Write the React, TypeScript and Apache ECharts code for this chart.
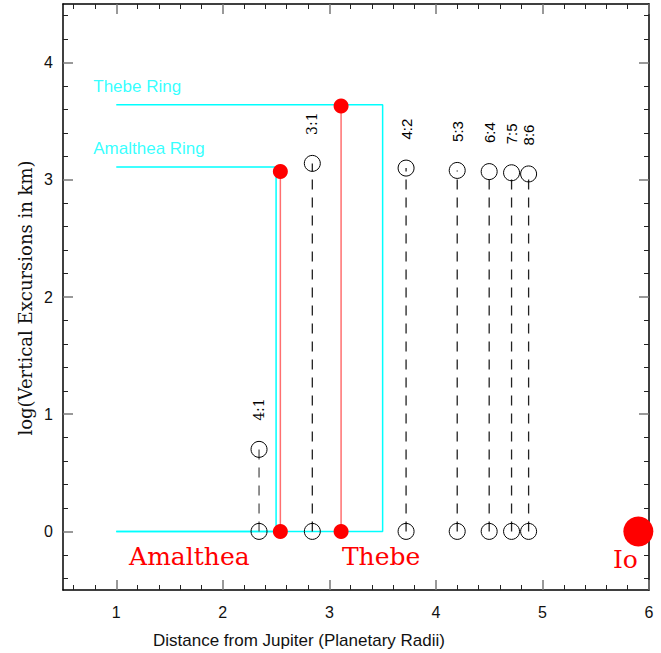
import React, { useEffect, useRef } from "react";
import * as echarts from "echarts";

// ---- data ----
const resonanceLabels = ["4:1", "3:1", "4:2", "5:3", "6:4", "7:5", "8:6"];
const resonanceDistance = [2.34, 2.84, 3.72, 4.2, 4.5, 4.71, 4.87];
const resonanceExcursion = [0.7, 3.14, 3.1, 3.08, 3.07, 3.06, 3.05];

const moonNames = ["Amalthea", "Thebe"];
const moonDistance = [2.54, 3.11];
const moonExcursion = [3.07, 3.63];

const ioName = "Io";
const ioDistance = 5.9;

const ringNames = ["Amalthea Ring", "Thebe Ring"];
const ringInner = [1, 1];
const ringOuter = [2.5, 3.5];
const ringExcursion = [3.11, 3.64];

const xMajorTicks = [1, 2, 3, 4, 5, 6];
const yMajorTicks = [0, 1, 2, 3, 4];
const X_MIN = 0.5, X_MAX = 6;
const Y_MIN = -0.5, Y_MAX = 4.5;

function minorTicks(min: number, max: number, step: number, majors: number[]) {
  const out: number[] = [];
  const start = Math.ceil(min / step - 1e-9);
  for (let k = start; k * step <= max + 1e-9; k++) {
    const v = Math.round(k * step * 1000) / 1000;
    if (v <= min || v >= max) continue;
    if (majors.some((m) => Math.abs(m - v) < 1e-6)) continue;
    out.push(v);
  }
  return out;
}
const xMinorTicks = minorTicks(X_MIN, X_MAX, 0.2, xMajorTicks);
const yMinorTicks = minorTicks(Y_MIN, Y_MAX, 0.2, yMajorTicks);

const SANS = "Liberation Sans";
const SERIF = "DejaVu Serif";
const CYAN = "#00ffff";
const RED = "#ff0000";
const RED_LINE = "#ff6f6f";

export default function App() {
  const ref = useRef<HTMLDivElement>(null);

  useEffect(() => {
    if (!ref.current) return;
    const chart = echarts.init(ref.current, null, { renderer: "svg" });

    const baseAxis = (pos: string, min: number, max: number) => ({
      type: "value",
      position: pos,
      min,
      max,
      splitLine: { show: false },
      axisLine: { show: false, onZero: false },
      axisLabel: { show: false },
    });
    const majorAxis = (pos: string, min: number, max: number, ticks: number[], labels: boolean, isX: boolean) => ({
      ...baseAxis(pos, min, max),
      axisLine: { show: true, onZero: false, lineStyle: { color: "#000", width: 1.5 } },
      axisTick: {
        show: true,
        inside: true,
        length: 10,
        customValues: ticks,
        lineStyle: { color: "#777", width: 1.5 },
      },
      axisLabel: {
        show: labels,
        customValues: ticks,
        color: "#111",
        fontSize: 16,
        fontFamily: SANS,
        margin: isX ? 14 : 10,
      },
    });
    const minorAxis = (pos: string, min: number, max: number, ticks: number[]) => ({
      ...baseAxis(pos, min, max),
      axisTick: {
        show: true,
        inside: true,
        length: 5,
        customValues: ticks,
        lineStyle: { color: "#222", width: 1 },
      },
    });

    const series: any[] = [];

    // rings
    ringNames.forEach((name, i) => {
      series.push({
        type: "line",
        name,
        xAxisIndex: 0,
        yAxisIndex: 0,
        data: [
          [ringInner[i], ringExcursion[i]],
          [ringOuter[i], ringExcursion[i]],
          [ringOuter[i], 0],
          [ringInner[i], 0],
        ],
        symbol: "none",
        lineStyle: { color: CYAN, width: 1.5 },
        z: 2,
        silent: true,
      });
    });
    series.push({
      type: "scatter",
      xAxisIndex: 0,
      yAxisIndex: 0,
      symbolSize: 0,
      data: ringNames.map((name, i) => ({ name, value: [ringInner[i], ringExcursion[i]] })),
      label: {
        show: true,
        position: "inside",
        formatter: "{b}",
        align: "left",
        verticalAlign: "middle",
        offset: [-23, -18],
        color: CYAN,
        fontSize: 17,
        fontFamily: SANS,
      },
      z: 3,
    });

    // resonance dashed lines
    resonanceLabels.forEach((lab, i) => {
      series.push({
        type: "line",
        xAxisIndex: 0,
        yAxisIndex: 0,
        data: [
          [resonanceDistance[i], 0],
          [resonanceDistance[i], resonanceExcursion[i]],
        ],
        symbol: "none",
        lineStyle: { color: i === 0 ? "#555" : "#222", width: 1.3, type: [10, 8] },
        z: 2,
        silent: true,
      });
    });
    // resonance circles
    const resData: any[] = [];
    resonanceLabels.forEach((lab, i) => {
      resData.push({ value: [resonanceDistance[i], 0] });
      const serif = i < 2;
      resData.push({
        name: lab,
        value: [resonanceDistance[i], resonanceExcursion[i]],
        label: {
          show: true,
          formatter: lab,
          position: "top",
          distance: 20,
          rotate: 90,
          align: "left",
          verticalAlign: "middle",
          color: "#000",
          fontSize: serif ? 14 : 15,
          fontFamily: serif ? SERIF : SANS,
        },
      });
    });
    series.push({
      type: "scatter",
      xAxisIndex: 0,
      yAxisIndex: 0,
      symbol: "circle",
      symbolSize: 16,
      itemStyle: { color: "rgba(255,255,255,0)", borderColor: "#000", borderWidth: 1, opacity: 1 },
      data: resData,
      z: 4,
    });

    // moons
    moonNames.forEach((name, i) => {
      series.push({
        type: "line",
        xAxisIndex: 0,
        yAxisIndex: 0,
        data: [
          [moonDistance[i], 0],
          [moonDistance[i], moonExcursion[i]],
        ],
        symbol: "none",
        lineStyle: { color: RED_LINE, width: 1.5 },
        z: 3,
        silent: true,
      });
    });
    const nameOffsets: Record<string, number[]> = {
      Amalthea: [-91, 25],
      Thebe: [40, 25],
      Io: [-13, 28],
    };
    const moonLabel = (name: string) => ({
      show: true,
      position: "inside",
      formatter: name,
      offset: nameOffsets[name],
      align: "center",
      verticalAlign: "middle",
      color: RED,
      fontSize: 25,
      fontFamily: SERIF,
    });
    const moonData: any[] = [];
    moonNames.forEach((name, i) => {
      moonData.push({ name, value: [moonDistance[i], 0], label: moonLabel(name) });
      moonData.push({ value: [moonDistance[i], moonExcursion[i]] });
    });
    series.push({
      type: "scatter",
      xAxisIndex: 0,
      yAxisIndex: 0,
      symbol: "circle",
      symbolSize: 15,
      itemStyle: { color: RED, opacity: 1 },
      data: moonData,
      z: 5,
    });
    series.push({
      type: "scatter",
      xAxisIndex: 0,
      yAxisIndex: 0,
      symbol: "circle",
      symbolSize: 30,
      itemStyle: { color: RED, opacity: 1 },
      data: [{ name: ioName, value: [ioDistance, 0], label: moonLabel(ioName) }],
      z: 5,
    });

    chart.setOption({
      animation: false,
      backgroundColor: "#fff",
      grid: {
        left: 63,
        right: 12,
        top: 4,
        bottom: 63,
        containLabel: false,
        outerBoundsMode: "none",
      },
      xAxis: [
        majorAxis("bottom", X_MIN, X_MAX, xMajorTicks, true, true),
        minorAxis("bottom", X_MIN, X_MAX, xMinorTicks),
        majorAxis("top", X_MIN, X_MAX, xMajorTicks, false, true),
        minorAxis("top", X_MIN, X_MAX, xMinorTicks),
      ],
      yAxis: [
        majorAxis("left", Y_MIN, Y_MAX, yMajorTicks, true, false),
        minorAxis("left", Y_MIN, Y_MAX, yMinorTicks),
        majorAxis("right", Y_MIN, Y_MAX, yMajorTicks, false, false),
        minorAxis("right", Y_MIN, Y_MAX, yMinorTicks),
      ],
      graphic: [
        {
          type: "text",
          left: 153,
          top: 632,
          style: {
            text: "Distance from Jupiter (Planetary Radii)",
            fill: "#111",
            font: `17px "${SANS}"`,
          },
        },
        {
          type: "text",
          x: 25,
          y: 298,
          rotation: Math.PI / 2,
          style: {
            text: "log(Vertical Excursions in km)",
            fill: "#111",
            font: `18px "${SERIF}"`,
            align: "center",
            verticalAlign: "middle",
          },
        },
      ],
      series,
    });

    return () => chart.dispose();
  }, []);

  return (
    <div
      ref={ref}
      style={{ position: "fixed", left: 0, top: 0, width: 661, height: 653, background: "#fff" }}
    />
  );
}
